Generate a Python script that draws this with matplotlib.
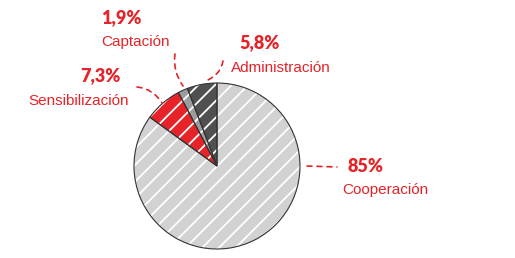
import matplotlib
matplotlib.use("Agg")
import matplotlib.pyplot as plt

categories = ["Administración", "Captación", "Sensibilización", "Cooperación"]
values = [5.8, 1.9, 7.3, 85.0]
pct_labels = ["5,8%", "1,9%", "7,3%", "85%"]

colors = ["#505050", "#9c9c9c", "#e52328", "#d2d2d2"]
RED = "#e52328"
W, H = 515, 258

plt.rcParams["hatch.linewidth"] = 1.3
fig = plt.figure(figsize=(W / 100, H / 100), dpi=100)
ax = fig.add_axes([0, 0, 1, 1])

def P(x, y):
    return (x, H - y)

center = P(217, 166)
R = 83

wedges, _ = ax.pie(values, startangle=90, counterclock=True, colors=colors,
                   center=center, radius=R, hatch="//",
                   wedgeprops=dict(edgecolor="white", linewidth=0))
ax.pie(values, startangle=90, counterclock=True, center=center, radius=R,
       wedgeprops=dict(facecolor="none", edgecolor="#333333", linewidth=0.8))

# label positions (pixel coordinates)
pct_pos = [(260, 43), (121, 18), (100, 76), (366, 166)]
name_pos = [(281, 68), (135, 42), (79, 101), (385, 190)]
leaders = [((223, 61), (205, 81), -0.3),
           ((175, 54), (183, 86), 0.2),
           ((137, 87), (162, 103), -0.25),
           ((307, 166), (337, 167), 0.0)]

for pl, pp, nm, npos in zip(pct_labels, pct_pos, categories, name_pos):
    ax.text(*P(*pp), pl, color=RED, fontsize=13, fontweight="heavy",
            family="Lato", ha="center", va="center")
    ax.text(*P(*npos), nm, color=RED, fontsize=11, family="Liberation Sans",
            ha="center", va="center")

for (s, e, rad) in leaders:
    ax.annotate("", xy=P(*e), xytext=P(*s),
                arrowprops=dict(arrowstyle="-", color=RED, lw=1.2,
                                linestyle=(0, (3, 3)),
                                connectionstyle=f"arc3,rad={rad}",
                                shrinkA=0, shrinkB=0))

ax.set_xlim(0, W)
ax.set_ylim(0, H)
ax.set_aspect("auto")
ax.axis("off")
fig.savefig("out.png", dpi=100)
